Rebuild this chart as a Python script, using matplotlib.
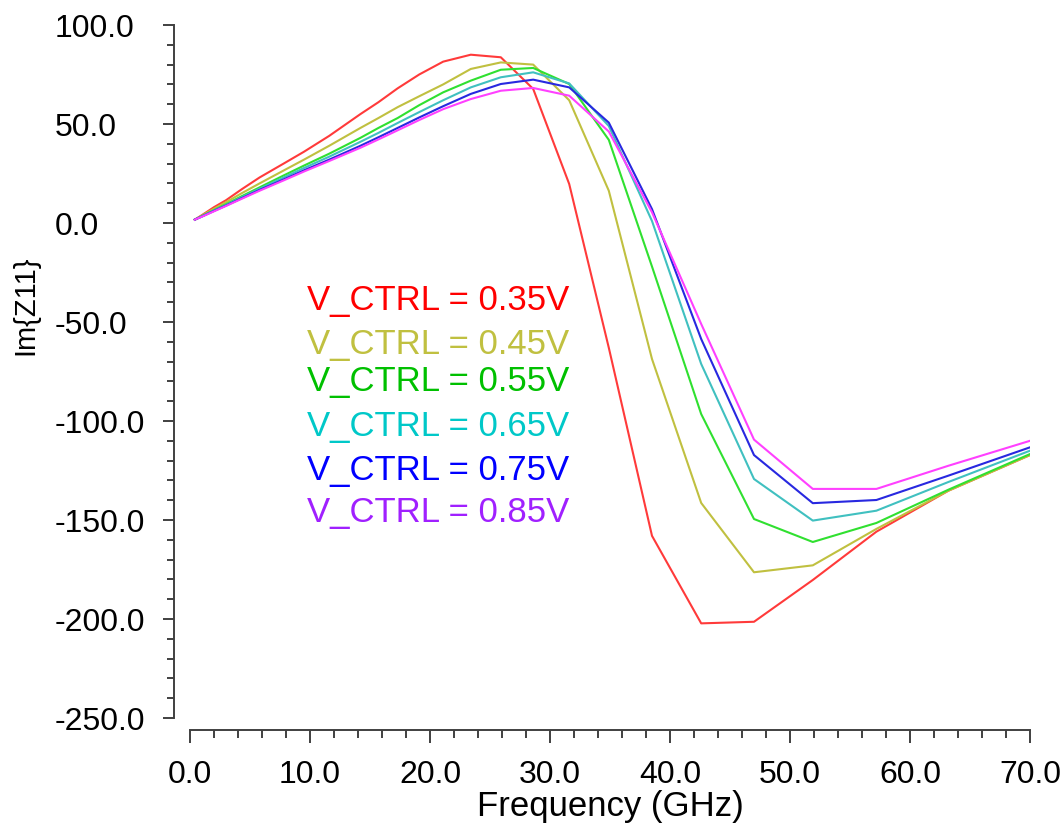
import matplotlib
matplotlib.use("Agg")
import matplotlib.pyplot as plt
from matplotlib.ticker import MultipleLocator, FormatStrFormatter

plt.rcParams['font.family'] = ['Liberation Sans', 'DejaVu Sans']

freq = [0.4, 1.0, 2.0, 3.0, 4.3, 5.8, 7.8, 9.5, 11.6, 14.2, 15.7, 17.3, 19.1,
        21.1, 23.4, 25.9, 28.6, 31.6, 34.9, 38.5, 42.6, 47.0, 51.9, 57.2, 63.2, 70.0]

im_035 = [1.7, 4.0, 8.0, 11.5, 17.0, 23.0, 30.0, 36.0, 44.0, 55.0, 61.0, 68.0, 75.0,
          81.5, 85.0, 83.7, 67.7, 19.7, -63.0, -158.0, -202.2, -201.4, -180.3, -155.9, -135.2, -117.2]
im_045 = [1.7, 3.8, 7.2, 10.5, 15.0, 20.0, 26.5, 32.0, 39.0, 48.0, 53.0, 58.5, 64.0,
          70.0, 77.8, 81.1, 80.0, 62.0, 16.3, -68.7, -141.4, -176.4, -172.9, -154.5, -135.2, -117.2]
im_055 = [1.7, 3.5, 6.5, 9.5, 13.5, 18.0, 24.0, 29.0, 35.0, 43.0, 48.0, 53.0, 59.5,
          66.0, 71.9, 77.4, 78.3, 70.2, 42.0, -22.0, -96.5, -149.5, -161.1, -151.5, -134.7, -116.7]
im_065 = [1.7, 3.4, 6.3, 9.1, 13.0, 17.3, 23.0, 27.8, 33.5, 41.0, 45.5, 50.5, 56.0,
          62.0, 68.5, 73.6, 76.1, 70.5, 49.0, 1.0, -71.2, -129.3, -150.3, -145.3, -130.8, -115.0]
im_075 = [1.7, 3.3, 6.1, 8.8, 12.5, 16.7, 22.0, 26.6, 32.0, 39.0, 43.3, 48.0, 53.3,
          59.0, 65.2, 70.2, 72.4, 68.5, 50.7, 7.0, -58.6, -117.2, -141.5, -139.9, -127.6, -113.3]
im_085 = [1.7, 3.2, 5.9, 8.6, 12.2, 16.3, 21.5, 26.0, 31.3, 38.0, 42.2, 46.8, 52.0,
          57.5, 62.6, 66.8, 68.2, 64.3, 46.2, 5.4, -51.0, -109.4, -134.3, -134.3, -122.6, -110.0]

labels = ['V_CTRL = 0.35V', 'V_CTRL = 0.45V', 'V_CTRL = 0.55V',
          'V_CTRL = 0.65V', 'V_CTRL = 0.75V', 'V_CTRL = 0.85V']
series = [im_035, im_045, im_055, im_065, im_075, im_085]
line_colors = ['#ff3a3a', '#c0c040', '#30e030', '#40c0c0', '#2828e0', '#ff40ff']
text_colors = ['#ff0000', '#c0c040', '#00c000', '#00c8c8', '#0000ff', '#a020ff']
label_y = [-38.4, -61.1, -79.3, -102.5, -124.7, -145.9]

fig = plt.figure(figsize=(10.63, 8.28), dpi=100)
ax = fig.add_axes([190 / 1063, 109 / 828, 840 / 1063, 693 / 828])

for ys, c in zip(series, line_colors):
    ax.plot(freq, ys, color=c, lw=1.5)

for lab, c, yy in zip(labels, text_colors, label_y):
    ax.text(9.75, yy, lab, color=c, fontsize=25, ha='left', va='center')

ax.set_xlim(0, 70)
ax.set_ylim(-250, 100)

for s in ['top', 'right']:
    ax.spines[s].set_visible(False)
ax.spines['left'].set_position(('outward', 11.5))
ax.spines['bottom'].set_position(('outward', 8.6))
for s in ['left', 'bottom']:
    ax.spines[s].set_color('#404040')
    ax.spines[s].set_linewidth(1.4)

ax.xaxis.set_major_locator(MultipleLocator(10))
ax.xaxis.set_minor_locator(MultipleLocator(2))
ax.yaxis.set_major_locator(MultipleLocator(50))
ax.yaxis.set_minor_locator(MultipleLocator(10))
ax.xaxis.set_major_formatter(FormatStrFormatter('%.1f'))
ax.yaxis.set_major_formatter(FormatStrFormatter('%.1f'))

ax.tick_params(which='both', direction='out', color='#404040', width=1.4)
ax.tick_params(axis='x', which='major', length=9, pad=12, labelsize=23)
ax.tick_params(axis='x', which='minor', length=5.5)
ax.tick_params(axis='y', which='major', length=8, pad=78, labelsize=23)
ax.tick_params(axis='y', which='minor', length=5)
for t in ax.get_yticklabels():
    t.set_horizontalalignment('left')

ax.set_xlabel('Frequency (GHz)', fontsize=25, labelpad=0)
ax.set_ylabel('Im{Z11}', fontsize=21)
ax.yaxis.set_label_coords(-0.179, 0.597)

fig.savefig('out.png', dpi=100)
